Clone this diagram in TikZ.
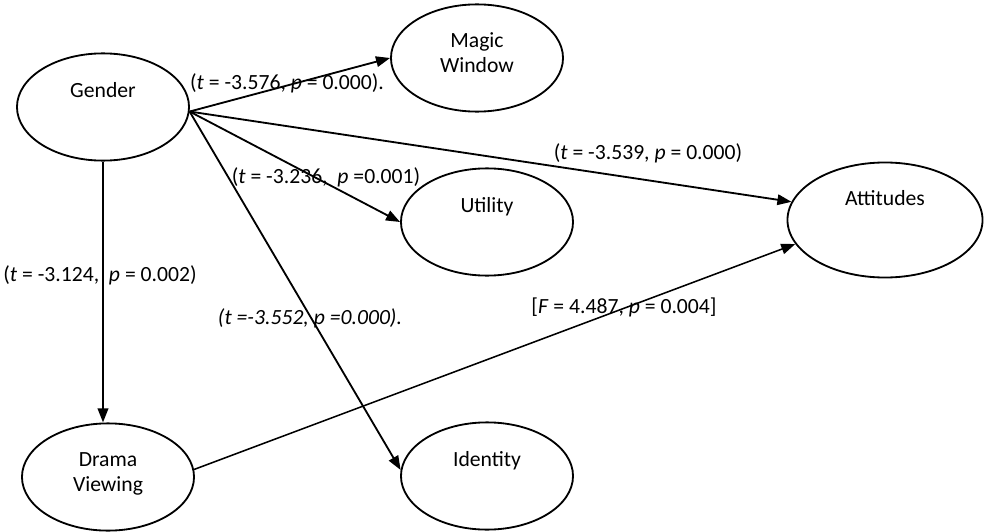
\documentclass[tikz,border=0pt]{standalone}
\usepackage{fontspec}
\setmainfont{Carlito}
\usetikzlibrary{shapes.geometric,arrows.meta}
\begin{document}
\begin{tikzpicture}[x=0.025cm, y=-0.025cm,
    font=\fontsize{15.4}{17.8}\selectfont,
    var/.style={draw, ellipse, line width=1.3pt, minimum width=4.3cm, minimum height=2.68cm, align=center, inner sep=0pt},
    one/.style={text height=10.7pt, text depth=24.9pt},
    two/.style={text height=28pt, text depth=8pt},
    link/.style={-{Triangle[length=10pt,width=7.5pt]}, line width=1.3pt},
    stat/.style={inner sep=0pt}]
    \useasboundingbox (0,0) rectangle (986,532);

    \node[var, one] (gender) at (103,107) {Gender};
    \node[var, two] (magic) at (477,58) {Magic\\Window};
    \node[var, one] (utility) at (487,222) {Utility};
    \node[var, one, text depth=32pt, minimum width=4.875cm, minimum height=2.875cm] (attitudes) at (885,220) {Attitudes};
    \node[var, two] (drama) at (108,477) {Drama\\Viewing};
    \node[var, one] (identity) at (487,476) {Identity};

    \draw[link] (gender.-3) -- (magic.west);
    \draw[link] (gender.-3) -- (utility.west);
    \draw[link] (gender.-3) -- (attitudes.169);
    \draw[link] (gender.-3) -- (identity.176);
    \draw[link] (gender.south) -- (gender.south |- drama.north);
    \draw[link, line width=1.1pt] (drama.5) -- (attitudes.195);

    \node[stat] (tmagic) at (287,83) {(\textit{t} = -3.576, \textit{p} = 0.000).};
    \node[stat] (tutil) at (326,177) {(\textit{t} = -3.236, \ \textit{p} =0.001)};
    \node[stat] (tatt) at (648,153) {(\textit{t} = -3.539, \textit{p} = 0.000)};
    \node[stat] (tdrama) at (100,275) {(\textit{t} = -3.124, \ \textit{p} = 0.002)};
    \node[stat] (tident) at (310,318) {\itshape (t =-3.552, p =0.000).};
    \node[stat] (fatt) at (624,307) {[\textit{F} = 4.487, \textit{p} = 0.004]};
\end{tikzpicture}
\end{document}
